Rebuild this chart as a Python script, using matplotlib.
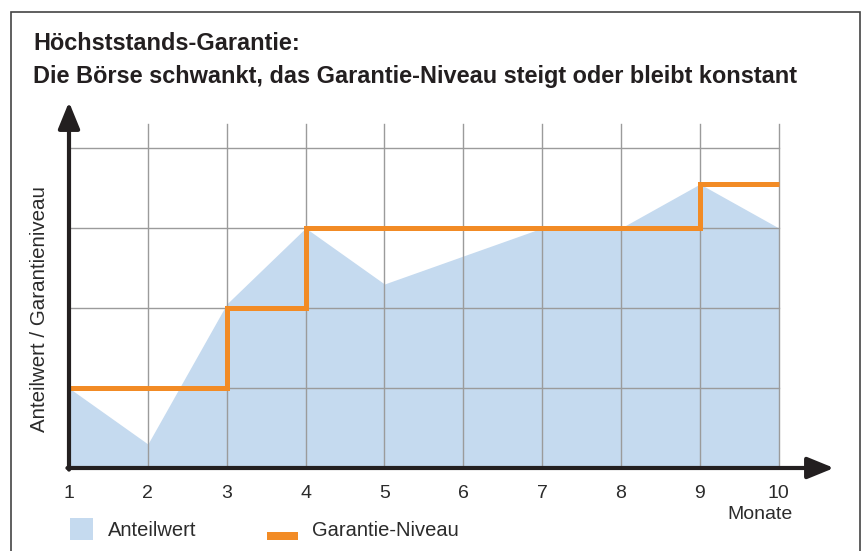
import numpy as np
import matplotlib.pyplot as plt
from matplotlib.patches import Rectangle

plt.rcParams['font.family'] = ['Liberation Sans', 'DejaVu Sans']

monate = [1, 2, 3, 4, 5, 6, 7, 8, 9, 10]
anteilwert = [1.0, 0.3, 2.05, 3.0, 2.3, 2.65, 3.0, 3.0, 3.55, 3.0]
garantie = [1.0, 1.0, 2.0, 3.0, 3.0, 3.0, 3.0, 3.0, 3.55, 3.55]
grid_y = [1, 2, 3, 4]

c_fill = '#c5daef'
c_orange = '#f28b25'
c_grid = '#9b9b9b'
c_axis = '#231f20'
c_text = '#2b2b2b'

W, H = 865, 551


def fx(px):
    return px / W


def fy(py):
    return 1 - py / H


fig = plt.figure(figsize=(8.65, 5.51), dpi=100)
fig.patches.append(Rectangle((fx(10.5), -0.1), fx(849.5), fy(11.5) + 0.1,
                             transform=fig.transFigure, fill=False,
                             edgecolor='#444444', linewidth=1.2))

fig.text(fx(33), fy(43), 'Höchststands-Garantie:', fontsize=16.9, fontweight='bold',
         color=c_axis, va='center')
fig.text(fx(33), fy(76), 'Die Börse schwankt, das Garantie-Niveau steigt oder bleibt konstant',
         fontsize=16.9, fontweight='bold', color=c_axis, va='center')

ax = fig.add_axes([fx(69), fy(468), fx(834 - 69), fy(102) - fy(468)])
ax.set_xlim(1, 10.7)
ax.set_ylim(0, 4.575)
ax.axis('off')

ax.fill_between(monate, anteilwert, 0, color=c_fill, linewidth=0, zorder=1)

for y in grid_y:
    ax.plot([1, 10], [y, y], color=c_grid, linewidth=1.0, zorder=2)
for x in monate[1:]:
    ax.plot([x, x], [0, 4.3], color=c_grid, linewidth=1.0, zorder=2)

ax.plot(monate, garantie, drawstyle='steps-post', color=c_orange, linewidth=3.6,
        solid_joinstyle='miter', solid_capstyle='butt', zorder=4)

# axes with arrow heads
arrow = dict(arrowstyle='-|>,head_length=1.15,head_width=0.47', color=c_axis,
             linewidth=3.0, shrinkA=0, shrinkB=0, mutation_scale=14)
ax.annotate('', xy=(10.7, 0), xytext=(0.98, 0), arrowprops=arrow, zorder=5,
            annotation_clip=False)
ax.annotate('', xy=(1, 4.575), xytext=(1, -0.02), arrowprops=arrow, zorder=5,
            annotation_clip=False)

for m in monate:
    ax.text(m, -0.32, str(m), ha='center', va='center', fontsize=14, color=c_text)
ax.text(10.18, -0.58, 'Monate', ha='right', va='center', fontsize=14, color=c_text)

fig.text(fx(40), fy(309), 'Anteilwert / Garantieniveau', rotation=90, ha='center',
         va='center', fontsize=14.8, color=c_text)

# legend
fig.patches.append(Rectangle((fx(70), fy(540)), fx(23), 22 / H,
                             transform=fig.transFigure, color=c_fill, linewidth=0))
fig.text(fx(108), fy(531), 'Anteilwert', va='center', fontsize=14.5, color=c_text)
fig.patches.append(Rectangle((fx(267), fy(540)), fx(31), 8 / H,
                             transform=fig.transFigure, color=c_orange, linewidth=0))
fig.text(fx(312), fy(531), 'Garantie-Niveau', va='center', fontsize=14.5, color=c_text)

fig.savefig('out.png', dpi=100)
